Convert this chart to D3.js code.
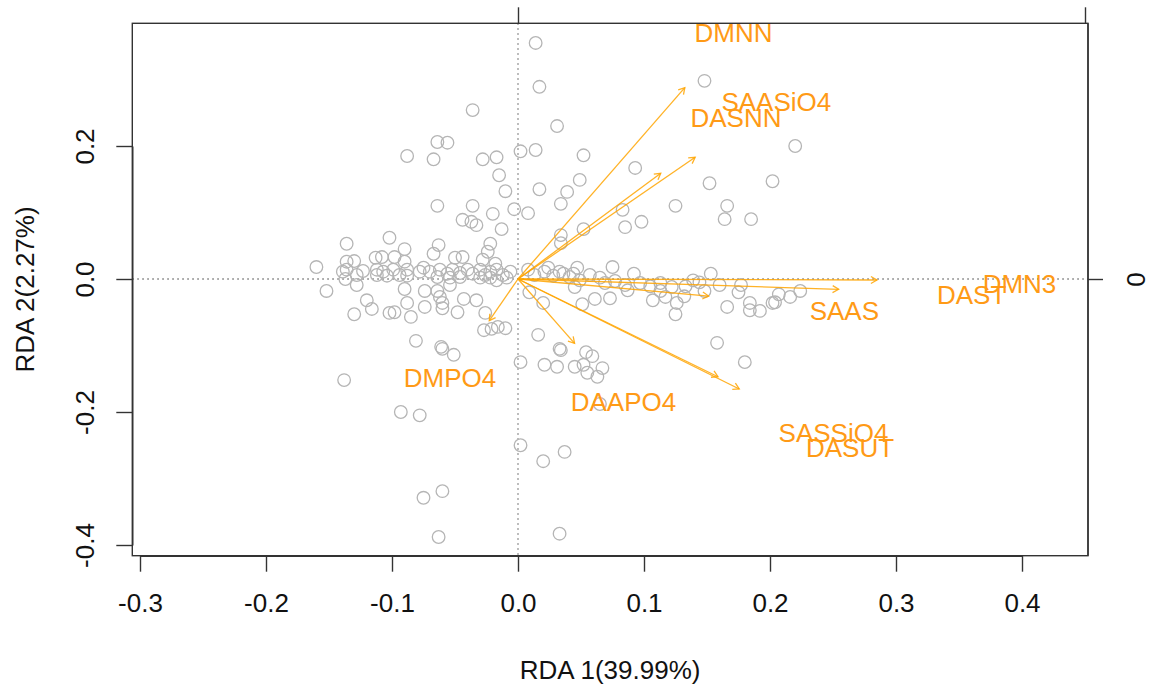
<!DOCTYPE html>
<html><head><meta charset="utf-8">
<script src="https://cdn.jsdelivr.net/npm/d3@7"></script>
<style>
body{margin:0;background:#fff}
svg{display:block}
text{font-family:"Liberation Sans",Arial,Helvetica,sans-serif}
</style>
</head><body>
<svg id="c" width="1150" height="685"></svg>
<script>
// ---------- data (RDA site scores and biplot arrows) ----------
const sites = [
[0.014,0.355],[0.017,0.289],[0.148,0.298],[-0.036,0.254],[0.031,0.230],[-0.064,0.206],[-0.056,0.205],
[-0.088,0.185],[-0.067,0.180],[0.002,0.192],[0.014,0.194],[-0.028,0.180],[-0.017,0.183],[0.052,0.186],
[0.220,0.200],[-0.015,0.156],[0.093,0.167],[-0.010,0.132],[0.049,0.149],[0.017,0.135],[0.039,0.131],
[0.034,0.113],[0.152,0.144],[0.202,0.147],[-0.064,0.110],[-0.036,0.110],[-0.020,0.098],[-0.003,0.105],
[0.008,0.099],[0.125,0.110],[0.166,0.110],[0.164,0.090],[0.185,0.090],[0.083,0.104],[0.085,0.078],
[0.098,0.086],[-0.044,0.089],[-0.037,0.086],[-0.033,0.081],[-0.013,0.075],[-0.102,0.062],[-0.136,0.053],
[-0.063,0.051],[-0.022,0.053],[0.034,0.066],[0.034,0.054],[0.052,0.075],[-0.090,0.045],[-0.067,0.038],
[-0.024,0.041],[-0.160,0.018],[-0.136,0.026],[-0.130,0.027],[-0.113,0.032],[-0.108,0.033],[-0.098,0.033],
[-0.090,0.026],[-0.050,0.032],[-0.044,0.033],[-0.028,0.029],[-0.018,0.023],[0.047,0.017],[0.075,0.018],
[0.024,0.017],[0.036,0.008],[0.044,0.008],[0.092,0.008],[0.153,0.008],[0.139,-0.002],
[0.224,-0.018],[0.216,-0.027],[0.207,-0.023],[0.204,-0.035],[0.202,-0.036],[0.192,-0.048],[0.184,-0.047],
[0.184,-0.036],[0.166,-0.042],[0.175,-0.020],[0.177,-0.009],[0.148,-0.018],[0.132,-0.026],[0.126,-0.036],
[0.125,-0.053],[0.117,-0.027],[0.113,-0.018],[0.107,-0.032],[0.087,-0.017],[0.073,-0.029],[0.061,-0.030],
[0.051,-0.038],[0.045,-0.012],[0.020,-0.036],[0.009,-0.020],[0.016,-0.084],[0.033,-0.105],[0.034,-0.107],
[0.054,-0.110],[0.059,-0.116],[0.052,-0.129],[0.055,-0.141],[0.063,-0.147],[0.067,-0.134],[0.045,-0.132],
[0.031,-0.132],[0.021,-0.129],[0.002,-0.125],[0.158,-0.096],[0.180,-0.125],[0.065,-0.188],[0.002,-0.250],
[0.037,-0.260],[0.020,-0.274],[0.033,-0.383],
[-0.152,-0.018],[-0.130,-0.053],[-0.120,-0.032],[-0.116,-0.045],[-0.102,-0.051],[-0.098,-0.050],[-0.085,-0.057],
[-0.090,-0.015],[-0.088,-0.036],[-0.074,-0.018],[-0.074,-0.042],[-0.064,-0.018],[-0.062,-0.027],[-0.060,-0.036],
[-0.060,-0.044],[-0.048,-0.050],[-0.043,-0.030],[-0.033,-0.032],[-0.026,-0.051],[-0.081,-0.093],[-0.061,-0.102],
[-0.060,-0.105],[-0.051,-0.114],[-0.138,-0.152],[-0.027,-0.077],[-0.021,-0.075],[-0.016,-0.072],[-0.010,-0.074],
[-0.093,-0.200],[-0.078,-0.205],[-0.075,-0.329],[-0.060,-0.319],[-0.063,-0.388],
[-0.139,0.011],[-0.136,0.014],[-0.137,0.000],[-0.128,0.006],[-0.128,-0.009],[-0.123,0.012],[-0.112,0.014],
[-0.112,0.006],[-0.107,0.011],[-0.104,0.005],[-0.099,0.014],[-0.094,0.006],[-0.088,0.014],[-0.088,0.005],
[-0.078,0.011],[-0.075,0.017],[-0.070,0.011],[-0.064,0.003],[-0.062,0.014],[-0.056,0.008],[-0.054,0.002],
[-0.054,-0.009],[-0.052,0.014],[-0.046,0.009],[-0.046,0.003],[-0.040,0.014],[-0.036,0.008],[-0.030,0.014],
[-0.030,0.002],[-0.026,0.006],[-0.022,0.011],[-0.022,0.002],[-0.017,0.014],[-0.017,-0.002],[-0.012,0.006],
[-0.009,0.002],[-0.006,0.011],
[0.008,0.014],[0.013,0.006],[0.021,0.011],[0.028,0.005],[0.033,0.011],[0.041,0.003],[0.049,-0.002],
[0.057,0.006],[0.065,0.002],[0.069,-0.006],[0.077,-0.003],[0.085,-0.009],[0.097,-0.006],[0.105,-0.011],
[0.113,-0.006],[0.122,-0.012],[0.133,-0.011],[0.144,-0.005],[0.160,-0.009]
];
const envNames = ["DMNN","SAASiO4","DASNN","DMN3","DAST","SAAS","DAAPO4","SASSiO4","DASUT","DMPO4"];
const envX     = [0.1324,0.1406,0.1133,0.2849,0.2545,0.1513,0.0449,0.1587,0.1756,-0.0228];
const envY     = [0.2877,0.1830,0.1590,-0.0015,-0.0155,-0.0256,-0.0967,-0.1470,-0.1654,-0.0627];
const labX     = [0.171,0.205,0.173,0.398,0.360,0.259,0.0837,0.2504,0.2635,-0.054];
const labY     = [0.370,0.266,0.242,-0.0075,-0.024,-0.047,-0.185,-0.2316,-0.253,-0.149];
const xTicks = [-0.3,-0.2,-0.1,0.0,0.1,0.2,0.3,0.4];
const yTicks = [-0.4,-0.2,0.0,0.2];
const topTicks = [0.0,0.45];
const rightTicks = [0.0];
const xTitle = "RDA 1(39.99%)";
const yTitle = "RDA 2(2.27%)";

// ---------- layout ----------
const svg = d3.select("#c");
const box = {l:132.3, t:23.3, r:1088, b:555.7};
const x = d3.scaleLinear().domain([-0.3,0.4]).range([140,1022]);
const y = d3.scaleLinear().domain([-0.4,0.2]).range([545,146]);
const FS = 26;
const orange = "#FFA500";
const fmt1 = d => d.toFixed(1);

// dotted zero lines
svg.append("line").attr("x1",box.l).attr("x2",box.r).attr("y1",y(0)).attr("y2",y(0))
  .attr("stroke","#777").attr("stroke-width",1.3).attr("stroke-dasharray","1.5,3.5");
svg.append("line").attr("x1",x(0)).attr("x2",x(0)).attr("y1",box.t).attr("y2",box.b)
  .attr("stroke","#777").attr("stroke-width",1.3).attr("stroke-dasharray","1.5,3.5");

// sites
svg.append("g").selectAll("circle").data(sites).join("circle")
  .attr("cx",d=>x(d[0])).attr("cy",d=>y(d[1])).attr("r",6.3)
  .attr("fill","none").attr("stroke","#b5b5b5").attr("stroke-width",1.3);

// arrows
const env = envNames.map((n,i)=>({n, x:envX[i], y:envY[i], lx:labX[i], ly:labY[i]}));
const ag = svg.append("g").attr("stroke",orange).attr("stroke-width",1.3).attr("fill","none").attr("stroke-opacity",0.85);
env.forEach(e=>{
  const x0=x(0), y0=y(0), x1=x(e.x), y1=y(e.y);
  ag.append("line").attr("x1",x0).attr("y1",y0).attr("x2",x1).attr("y2",y1);
  const a=Math.atan2(y1-y0,x1-x0), L=7, h=Math.PI/6;
  ag.append("path").attr("d",`M${x1-L*Math.cos(a-h)},${y1-L*Math.sin(a-h)}L${x1},${y1}L${x1-L*Math.cos(a+h)},${y1-L*Math.sin(a+h)}`);
});
svg.append("g").selectAll("text").data(env).join("text")
  .attr("x",d=>x(d.lx)).attr("y",d=>y(d.ly)).attr("dy","0.36em")
  .attr("text-anchor","middle").attr("font-size",FS).attr("fill","#FF9A16").text(d=>d.n);

// box
svg.append("rect").attr("x",box.l).attr("y",box.t).attr("width",box.r-box.l).attr("height",box.b-box.t)
  .attr("fill","none").attr("stroke","#333").attr("stroke-width",1.4);

// axes
function styleAxis(g){
  g.selectAll("path,line").attr("stroke","#333").attr("stroke-width",1.4);
  g.selectAll("text").attr("font-size",FS).attr("fill","#111").attr("font-family","Liberation Sans, Arial, sans-serif");
}
const gx = svg.append("g").attr("transform",`translate(0,${box.b})`)
  .call(d3.axisBottom(x).tickValues(xTicks).tickFormat(fmt1).tickSize(16).tickSizeOuter(0).tickPadding(22));
styleAxis(gx);
gx.selectAll("text").attr("dy","0.71em");

const gy = svg.append("g").attr("transform",`translate(${box.l},0)`)
  .call(d3.axisLeft(y).tickValues(yTicks).tickFormat(fmt1).tickSize(16).tickSizeOuter(0).tickPadding(0));
styleAxis(gy);
gy.selectAll(".tick text").attr("x",null).attr("dy",null).attr("text-anchor","middle")
  .attr("transform","translate(-48,0) rotate(-90)").attr("dy","0.36em");

const gt = svg.append("g").attr("transform",`translate(0,${box.t})`)
  .call(d3.axisTop(x).tickValues(topTicks).tickFormat("").tickSize(16).tickSizeOuter(0));
styleAxis(gt);
gt.select(".domain").remove();

const gr = svg.append("g").attr("transform",`translate(${box.r},0)`)
  .call(d3.axisRight(y).tickValues(rightTicks).tickFormat(d => d.toFixed(0)).tickSize(15).tickSizeOuter(0));
styleAxis(gr);
gr.select(".domain").attr("d",`M0,${box.t}V${box.b}`);
gr.selectAll(".tick text").attr("x",null).attr("dy",null).attr("text-anchor","middle")
  .attr("transform","translate(48,0) rotate(-90)").attr("dy","0.36em");

// titles
svg.append("text").attr("x",(box.l+box.r)/2).attr("y",670).attr("dy","0.36em")
  .attr("text-anchor","middle").attr("font-size",FS).attr("fill","#111").text(xTitle);
svg.append("text").attr("transform",`translate(25,${(box.t+box.b)/2}) rotate(-90)`).attr("dy","0.36em")
  .attr("text-anchor","middle").attr("font-size",FS).attr("fill","#111").text(yTitle);
</script>
</body></html>
